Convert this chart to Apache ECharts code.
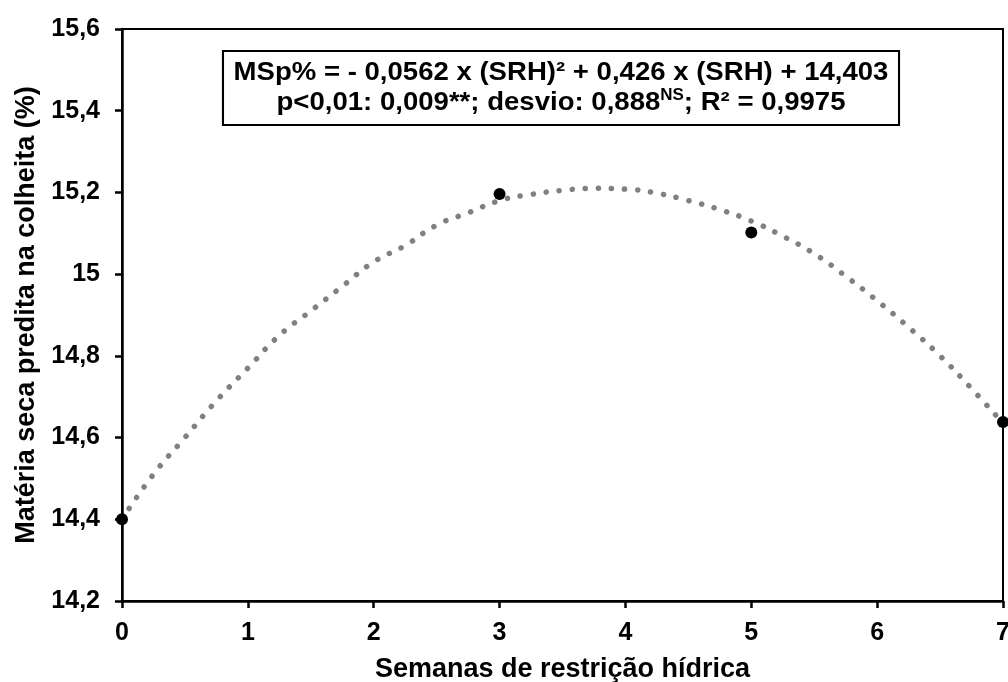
<!DOCTYPE html>
<html>
<head>
<meta charset="utf-8">
<script src="https://cdn.jsdelivr.net/npm/echarts@6/dist/echarts.min.js"></script>
<style>html,body{margin:0;padding:0;background:#fff}#c{width:1008px;height:682px}</style>
</head>
<body>
<div id="c"></div>
<script>
// observed points
const obsX = [0, 3, 5, 7];
const obsY = [14.40, 15.196, 15.102, 14.638];
// fitted curve
const curveX = [0, 0.25, 0.5, 0.75, 1, 1.25, 1.5, 1.75, 2, 2.25, 2.5, 2.75, 3, 3.25, 3.5, 3.75, 4, 4.25, 4.5, 4.75, 5, 5.25, 5.5, 5.75, 6, 6.25, 6.5, 6.75, 7];
const curveY = [14.40, 14.51, 14.60, 14.69, 14.77, 14.85, 14.91, 14.97, 15.03, 15.07, 15.12, 15.15, 15.18, 15.195, 15.205, 15.21, 15.208, 15.198, 15.18, 15.158, 15.13, 15.093, 15.05, 14.995, 14.935, 14.87, 14.80, 14.72, 14.635];
const xTitle = 'Semanas de restrição hídrica';
const yTitle = 'Matéria seca predita na colheita (%)';
const eqLine1 = 'MSp% = - 0,0562 x (SRH)² + 0,426 x (SRH) + 14,403';
const eqLine2a = 'p<0,01: 0,009**; desvio: 0,888';
const eqLine2sup = 'NS';
const eqLine2b = '; R² = 0,9975';

const font = '"Liberation Sans", Arial, sans-serif';
const chart = echarts.init(document.getElementById('c'));
const fmt = v => String(+(+v).toFixed(1)).replace('.', ',');
chart.setOption({
  animation: false,
  grid: {left: 122, right: 5, top: 29, bottom: 81, show: true, borderColor: '#000', borderWidth: 2, outerBoundsMode: 'none', containLabel: false},
  xAxis: {
    type: 'value', min: 0, max: 7, interval: 1,
    splitLine: {show: false},
    axisLine: {show: true, lineStyle: {color: '#000', width: 2.5}},
    axisTick: {show: true, inside: false, length: 7, lineStyle: {color: '#000', width: 2.5}},
    axisLabel: {color: '#000', fontFamily: font, fontWeight: 'bold', fontSize: 25, margin: 20, formatter: fmt},
    name: xTitle, nameLocation: 'middle', nameGap: 55,
    nameTextStyle: {color: '#000', fontFamily: font, fontWeight: 'bold', fontSize: 27}
  },
  yAxis: {
    type: 'value', min: 14.2, max: 15.6, interval: 0.2,
    splitLine: {show: false},
    axisLine: {show: true, lineStyle: {color: '#000', width: 2.5}},
    axisTick: {show: true, inside: false, length: 7, lineStyle: {color: '#000', width: 2.5}},
    axisLabel: {color: '#000', fontFamily: font, fontWeight: 'bold', fontSize: 25, margin: 22, formatter: fmt},
    name: yTitle, nameLocation: 'middle', nameGap: 82, nameRotate: 90,
    nameTextStyle: {color: '#000', fontFamily: font, fontWeight: 'bold', fontSize: 27}
  },
  graphic: [{
    type: 'text', x: 561, y: 52, scaleX: 1.06, z: 100,
    style: {
      text: '{a|' + eqLine1 + '}\n{a|' + eqLine2a + '}{s|' + eqLine2sup + '}{a|' + eqLine2b + '}',
      align: 'center', verticalAlign: 'top',
      backgroundColor: '#fff', borderColor: '#000', borderWidth: 2,
      padding: [6, 9, 6, 9],
      rich: {
        a: {fontFamily: font, fontWeight: 'bold', fontSize: 26, fill: '#000', lineHeight: 30, align: 'center'},
        s: {fontFamily: font, fontWeight: 'bold', fontSize: 16, fill: '#000', lineHeight: 30, verticalAlign: 'top', padding: [0, 0, 10, 0]}
      }
    }
  }],
  series: [{
    type: 'line', data: curveX.map((x, i) => [x, curveY[i]]), smooth: 0.5,
    symbol: 'none', z: 2,
    lineStyle: {color: '#808080', width: 5.5, type: [0.1, 13], cap: 'round'}
  }, {
    type: 'scatter', data: obsX.map((x, i) => [x, obsY[i]]), symbolSize: 12, clip: false, z: 3,
    itemStyle: {color: '#000', opacity: 1}
  }]
});
</script>
</body>
</html>
